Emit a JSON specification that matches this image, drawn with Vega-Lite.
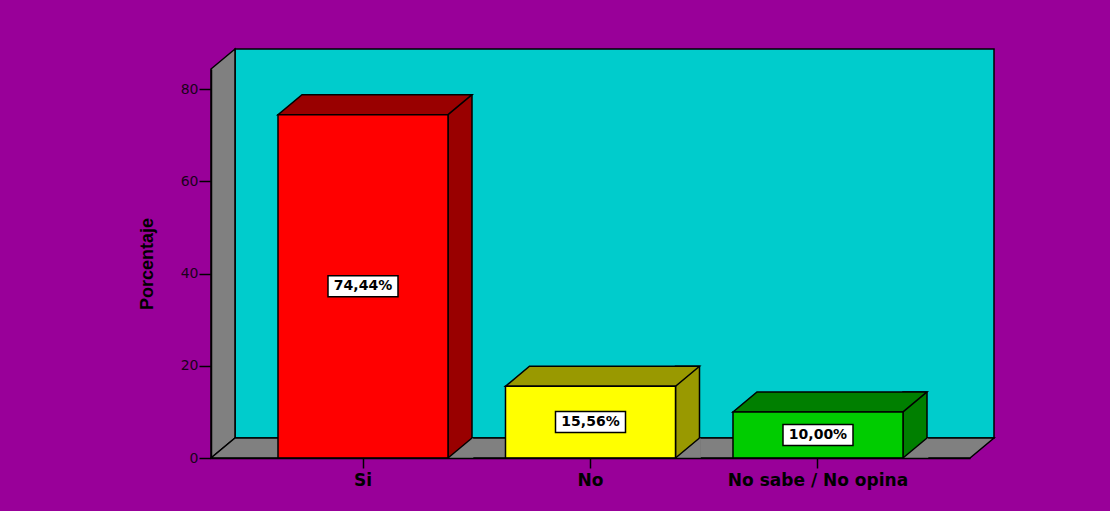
{
  "$schema": "https://vega.github.io/schema/vega-lite/v6.json",
  "autosize": "none",
  "width": 759,
  "height": 389,
  "padding": {"left": 211, "top": 69, "right": 140, "bottom": 53},
  "background": "#990099",
  "config": {"view": {"stroke": null}},
  "data": {
    "values": [
      {"respuesta": "Si", "porcentaje": 74.44, "etiqueta": "74,44%"},
      {"respuesta": "No", "porcentaje": 15.56, "etiqueta": "15,56%"},
      {"respuesta": "No sabe / No opina", "porcentaje": 10.0, "etiqueta": "10,00%"}
    ]
  },
  "encoding": {
    "x": {
      "field": "respuesta",
      "type": "nominal",
      "sort": null,
      "scale": {"paddingInner": 0.2527, "paddingOuter": 0.2945},
      "axis": {
        "title": null,
        "labelAngle": 0,
        "labelFont": "DejaVu Sans",
        "labelFontWeight": "bold",
        "labelFontSize": 17,
        "labelColor": "black",
        "labelPadding": 4,
        "labelLimit": 400,
        "labelOverlap": false,
        "tickSize": 10,
        "tickColor": "black",
        "tickWidth": 1.5,
        "domainColor": "black",
        "domainWidth": 1.5,
        "zindex": 1
      }
    }
  },
  "layer": [
    {
      "layer": [
        {
          "data": {"values": [{"parte": "fondo"}]},
          "mark": {"type": "rect", "fill": "#00CCCC", "stroke": "black", "strokeWidth": 1.5, "xOffset": 24, "x2Offset": 24, "yOffset": -20, "y2Offset": -20},
          "encoding": {
            "x": {"value": 0},
            "x2": {"value": "width"},
            "y": {"value": 0},
            "y2": {"value": "height"}
          }
        },
        {
          "data": {"values": [{"parte": "pared"}]},
          "mark": {"type": "point", "shape": "M0,0 L0,-389 L24,-409 L24,-20 Z", "size": 4, "filled": true, "opacity": 1, "fill": "#808080", "stroke": "black", "strokeWidth": 1.5},
          "encoding": {
            "x": {"value": 0},
            "y": {"datum": 0, "type": "quantitative"}
          }
        },
        {
          "data": {"values": [{"parte": "piso"}]},
          "mark": {"type": "point", "shape": "M0,0 L759,0 L783,-20 L24,-20 Z", "size": 4, "filled": true, "opacity": 1, "fill": "#808080", "stroke": "black", "strokeWidth": 1.5},
          "encoding": {
            "x": {"value": 0},
            "y": {"datum": 0, "type": "quantitative"}
          }
        },
        {
          "mark": {"type": "bar", "width": 24, "xOffset": 97, "yOffset": -20, "stroke": "black", "strokeWidth": 1.5},
          "encoding": {
            "y": {
              "field": "porcentaje",
              "type": "quantitative",
              "scale": {"domain": [0, 84.34], "nice": false},
              "axis": {
                "values": [0, 20, 40, 60, 80],
                "title": "Porcentaje",
                "titleFont": "Liberation Sans",
                "titleFontWeight": "bold",
                "titleFontSize": 18,
                "titleColor": "black",
                "titlePadding": 24,
                "labelFont": "DejaVu Sans",
                "labelFontSize": 14,
                "labelColor": "#1a001a",
                "labelPadding": 1,
                "tickSize": 12,
                "tickColor": "black",
                "tickWidth": 1.5,
                "domainColor": "black",
                "domainWidth": 1.5,
                "grid": false,
                "zindex": 1
              }
            },
            "y2": {"datum": 0},
            "fill": {"field": "respuesta", "type": "nominal", "scale": {"domain": ["Si", "No", "No sabe / No opina"], "range": ["#990000", "#999900", "#007F00"]}, "legend": null}
          }
        },
        {
          "mark": {"type": "point", "shape": "M-85,0 L85,0 L109,-20 L-61,-20 Z", "size": 4, "filled": true, "opacity": 1, "stroke": "black", "strokeWidth": 1.5},
          "encoding": {
            "y": {"field": "porcentaje", "type": "quantitative"},
            "fill": {"field": "respuesta", "type": "nominal", "scale": {"domain": ["Si", "No", "No sabe / No opina"], "range": ["#990000", "#999900", "#007F00"]}, "legend": null}
          }
        },
        {
          "mark": {"type": "point", "shape": "M85,0 L109,-20 L110.3,-19.2 L110.3,0 Z", "size": 4, "filled": true, "opacity": 1, "fill": "#808080", "strokeWidth": 0},
          "encoding": {
            "y": {"datum": 0, "type": "quantitative"}
          }
        },
        {
          "mark": {"type": "point", "shape": "M85,0 L109,-20", "size": 4, "filled": false, "opacity": 1, "stroke": "black", "strokeWidth": 1.5},
          "encoding": {
            "y": {"datum": 0, "type": "quantitative"}
          }
        },
        {
          "mark": {"type": "bar", "stroke": "black", "strokeWidth": 1.5},
          "encoding": {
            "y": {"field": "porcentaje", "type": "quantitative"},
            "y2": {"datum": 0},
            "fill": {"field": "respuesta", "type": "nominal", "scale": {"domain": ["Si", "No", "No sabe / No opina"], "range": ["#FF0000", "#FFFF00", "#00CC00"]}, "legend": null}
          }
        }
      ],
      "resolve": {"scale": {"fill": "independent"}}
    },
    {
      "layer": [
        {
          "mark": {"type": "point", "shape": "M-35,-10.5 L35,-10.5 L35,10.5 L-35,10.5 Z", "size": 4, "filled": true, "opacity": 1, "fill": "white", "stroke": "black", "strokeWidth": 1.5},
          "encoding": {
            "y": {"field": "porcentaje", "type": "quantitative", "scale": {"domain": [0, 168.68], "nice": false}, "axis": null}
          }
        },
        {
          "mark": {"type": "text", "font": "DejaVu Sans", "fontWeight": "bold", "fontSize": 14, "color": "black", "baseline": "middle", "align": "center"},
          "encoding": {
            "y": {"field": "porcentaje", "type": "quantitative"},
            "text": {"field": "etiqueta"}
          }
        }
      ]
    }
  ],
  "resolve": {"scale": {"y": "independent"}}
}
